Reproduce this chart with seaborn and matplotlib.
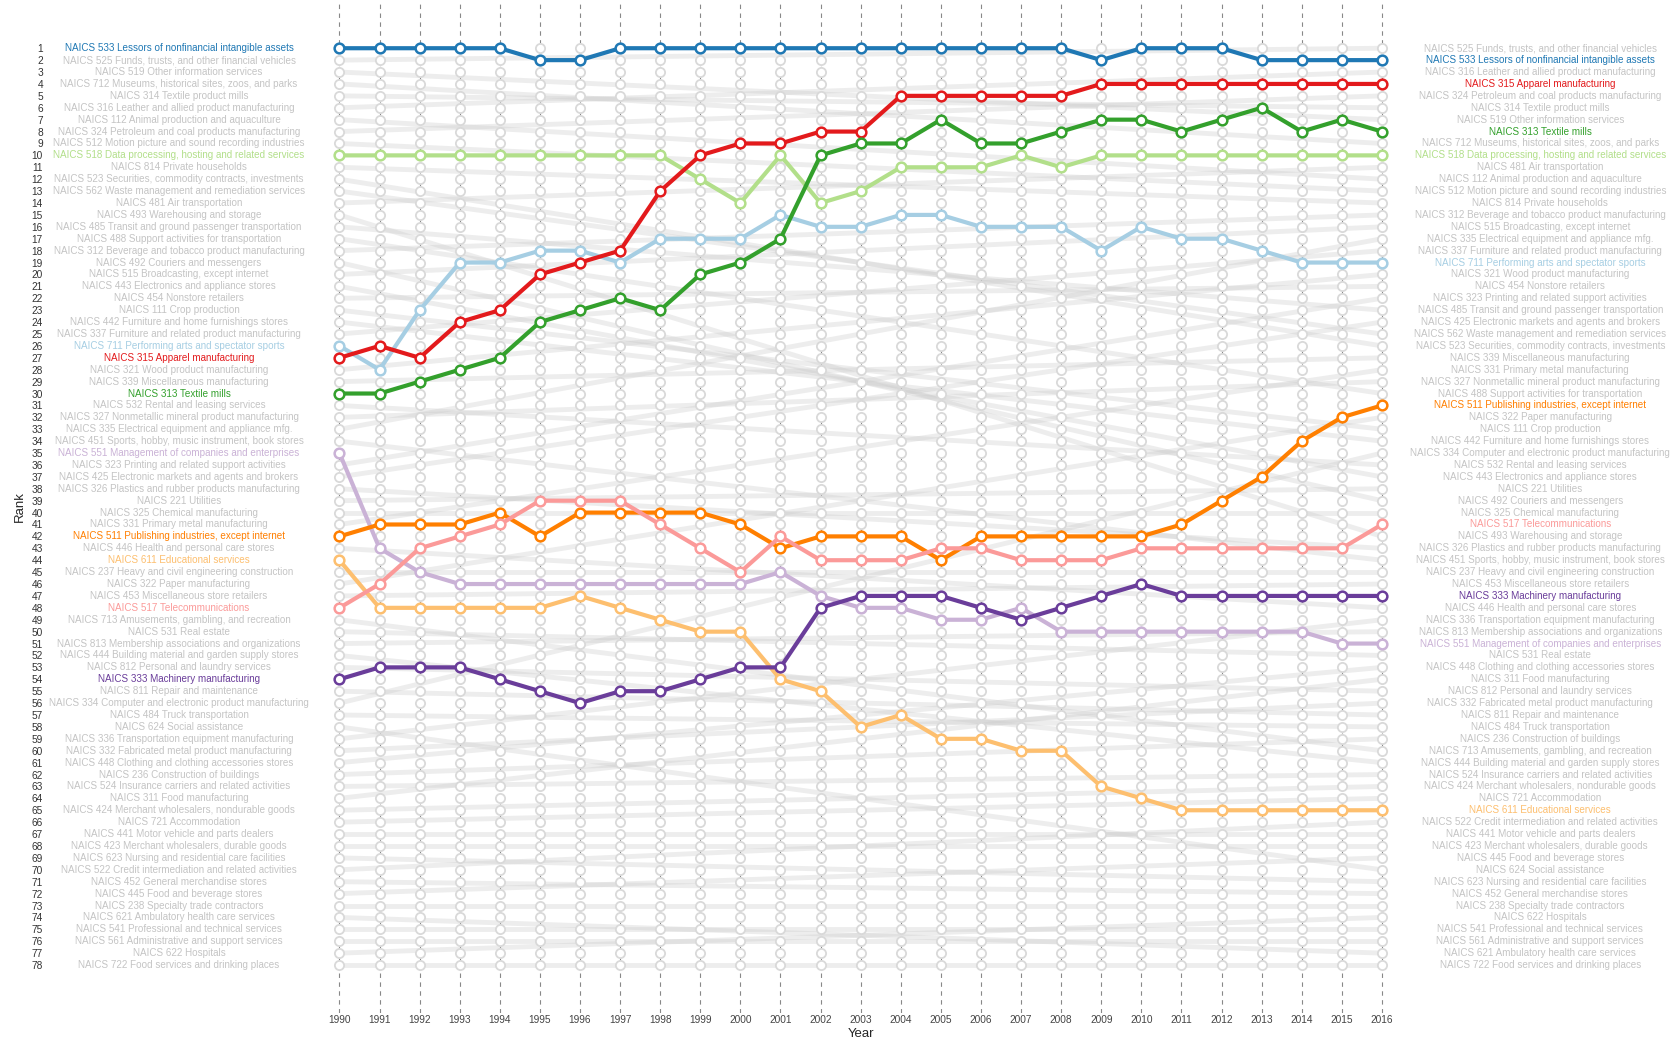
import matplotlib
matplotlib.use("Agg")
import matplotlib.pyplot as plt
import numpy as np
import pandas as pd
import seaborn as sns

sns.set_style("white")
plt.rcParams['font.family'] = ['Liberation Sans', 'DejaVu Sans']

years = list(range(1990, 2017))

# industries in rank order, 1990 (left side) and 2016 (right side)
order_1990 = [
    "NAICS 533 Lessors of nonfinancial intangible assets",
    "NAICS 525 Funds, trusts, and other financial vehicles",
    "NAICS 519 Other information services",
    "NAICS 712 Museums, historical sites, zoos, and parks",
    "NAICS 314 Textile product mills",
    "NAICS 316 Leather and allied product manufacturing",
    "NAICS 112 Animal production and aquaculture",
    "NAICS 324 Petroleum and coal products manufacturing",
    "NAICS 512 Motion picture and sound recording industries",
    "NAICS 518 Data processing, hosting and related services",
    "NAICS 814 Private households",
    "NAICS 523 Securities, commodity contracts, investments",
    "NAICS 562 Waste management and remediation services",
    "NAICS 481 Air transportation",
    "NAICS 493 Warehousing and storage",
    "NAICS 485 Transit and ground passenger transportation",
    "NAICS 488 Support activities for transportation",
    "NAICS 312 Beverage and tobacco product manufacturing",
    "NAICS 492 Couriers and messengers",
    "NAICS 515 Broadcasting, except internet",
    "NAICS 443 Electronics and appliance stores",
    "NAICS 454 Nonstore retailers",
    "NAICS 111 Crop production",
    "NAICS 442 Furniture and home furnishings stores",
    "NAICS 337 Furniture and related product manufacturing",
    "NAICS 711 Performing arts and spectator sports",
    "NAICS 315 Apparel manufacturing",
    "NAICS 321 Wood product manufacturing",
    "NAICS 339 Miscellaneous manufacturing",
    "NAICS 313 Textile mills",
    "NAICS 532 Rental and leasing services",
    "NAICS 327 Nonmetallic mineral product manufacturing",
    "NAICS 335 Electrical equipment and appliance mfg.",
    "NAICS 451 Sports, hobby, music instrument, book stores",
    "NAICS 551 Management of companies and enterprises",
    "NAICS 323 Printing and related support activities",
    "NAICS 425 Electronic markets and agents and brokers",
    "NAICS 326 Plastics and rubber products manufacturing",
    "NAICS 221 Utilities",
    "NAICS 325 Chemical manufacturing",
    "NAICS 331 Primary metal manufacturing",
    "NAICS 511 Publishing industries, except internet",
    "NAICS 446 Health and personal care stores",
    "NAICS 611 Educational services",
    "NAICS 237 Heavy and civil engineering construction",
    "NAICS 322 Paper manufacturing",
    "NAICS 453 Miscellaneous store retailers",
    "NAICS 517 Telecommunications",
    "NAICS 713 Amusements, gambling, and recreation",
    "NAICS 531 Real estate",
    "NAICS 813 Membership associations and organizations",
    "NAICS 444 Building material and garden supply stores",
    "NAICS 812 Personal and laundry services",
    "NAICS 333 Machinery manufacturing",
    "NAICS 811 Repair and maintenance",
    "NAICS 334 Computer and electronic product manufacturing",
    "NAICS 484 Truck transportation",
    "NAICS 624 Social assistance",
    "NAICS 336 Transportation equipment manufacturing",
    "NAICS 332 Fabricated metal product manufacturing",
    "NAICS 448 Clothing and clothing accessories stores",
    "NAICS 236 Construction of buildings",
    "NAICS 524 Insurance carriers and related activities",
    "NAICS 311 Food manufacturing",
    "NAICS 424 Merchant wholesalers, nondurable goods",
    "NAICS 721 Accommodation",
    "NAICS 441 Motor vehicle and parts dealers",
    "NAICS 423 Merchant wholesalers, durable goods",
    "NAICS 623 Nursing and residential care facilities",
    "NAICS 522 Credit intermediation and related activities",
    "NAICS 452 General merchandise stores",
    "NAICS 445 Food and beverage stores",
    "NAICS 238 Specialty trade contractors",
    "NAICS 621 Ambulatory health care services",
    "NAICS 541 Professional and technical services",
    "NAICS 561 Administrative and support services",
    "NAICS 622 Hospitals",
    "NAICS 722 Food services and drinking places",
]

order_2016 = [
    "NAICS 525 Funds, trusts, and other financial vehicles",
    "NAICS 533 Lessors of nonfinancial intangible assets",
    "NAICS 316 Leather and allied product manufacturing",
    "NAICS 315 Apparel manufacturing",
    "NAICS 324 Petroleum and coal products manufacturing",
    "NAICS 314 Textile product mills",
    "NAICS 519 Other information services",
    "NAICS 313 Textile mills",
    "NAICS 712 Museums, historical sites, zoos, and parks",
    "NAICS 518 Data processing, hosting and related services",
    "NAICS 481 Air transportation",
    "NAICS 112 Animal production and aquaculture",
    "NAICS 512 Motion picture and sound recording industries",
    "NAICS 814 Private households",
    "NAICS 312 Beverage and tobacco product manufacturing",
    "NAICS 515 Broadcasting, except internet",
    "NAICS 335 Electrical equipment and appliance mfg.",
    "NAICS 337 Furniture and related product manufacturing",
    "NAICS 711 Performing arts and spectator sports",
    "NAICS 321 Wood product manufacturing",
    "NAICS 454 Nonstore retailers",
    "NAICS 323 Printing and related support activities",
    "NAICS 485 Transit and ground passenger transportation",
    "NAICS 425 Electronic markets and agents and brokers",
    "NAICS 562 Waste management and remediation services",
    "NAICS 523 Securities, commodity contracts, investments",
    "NAICS 339 Miscellaneous manufacturing",
    "NAICS 331 Primary metal manufacturing",
    "NAICS 327 Nonmetallic mineral product manufacturing",
    "NAICS 488 Support activities for transportation",
    "NAICS 511 Publishing industries, except internet",
    "NAICS 322 Paper manufacturing",
    "NAICS 111 Crop production",
    "NAICS 442 Furniture and home furnishings stores",
    "NAICS 334 Computer and electronic product manufacturing",
    "NAICS 532 Rental and leasing services",
    "NAICS 443 Electronics and appliance stores",
    "NAICS 221 Utilities",
    "NAICS 492 Couriers and messengers",
    "NAICS 325 Chemical manufacturing",
    "NAICS 517 Telecommunications",
    "NAICS 493 Warehousing and storage",
    "NAICS 326 Plastics and rubber products manufacturing",
    "NAICS 451 Sports, hobby, music instrument, book stores",
    "NAICS 237 Heavy and civil engineering construction",
    "NAICS 453 Miscellaneous store retailers",
    "NAICS 333 Machinery manufacturing",
    "NAICS 446 Health and personal care stores",
    "NAICS 336 Transportation equipment manufacturing",
    "NAICS 813 Membership associations and organizations",
    "NAICS 551 Management of companies and enterprises",
    "NAICS 531 Real estate",
    "NAICS 448 Clothing and clothing accessories stores",
    "NAICS 311 Food manufacturing",
    "NAICS 812 Personal and laundry services",
    "NAICS 332 Fabricated metal product manufacturing",
    "NAICS 811 Repair and maintenance",
    "NAICS 484 Truck transportation",
    "NAICS 236 Construction of buildings",
    "NAICS 713 Amusements, gambling, and recreation",
    "NAICS 444 Building material and garden supply stores",
    "NAICS 524 Insurance carriers and related activities",
    "NAICS 424 Merchant wholesalers, nondurable goods",
    "NAICS 721 Accommodation",
    "NAICS 611 Educational services",
    "NAICS 522 Credit intermediation and related activities",
    "NAICS 441 Motor vehicle and parts dealers",
    "NAICS 423 Merchant wholesalers, durable goods",
    "NAICS 445 Food and beverage stores",
    "NAICS 624 Social assistance",
    "NAICS 623 Nursing and residential care facilities",
    "NAICS 452 General merchandise stores",
    "NAICS 238 Specialty trade contractors",
    "NAICS 622 Hospitals",
    "NAICS 541 Professional and technical services",
    "NAICS 561 Administrative and support services",
    "NAICS 621 Ambulatory health care services",
    "NAICS 722 Food services and drinking places",
]

# highlighted industries: rank in each year 1990..2016
rank_533 = [1, 1, 1, 1, 1, 2, 2, 1, 1, 1, 1, 1, 1, 1, 1, 1, 1, 1, 1, 2, 1, 1, 1, 2, 2, 2, 2]
rank_315 = [27, 26, 27, 24, 23, 20, 19, 18, 13, 10, 9, 9, 8, 8, 5, 5, 5, 5, 5, 4, 4, 4, 4, 4, 4, 4, 4]
rank_313 = [30, 30, 29, 28, 27, 24, 23, 22, 23, 20, 19, 17, 10, 9, 9, 7, 9, 9, 8, 7, 7, 8, 7, 6, 8, 7, 8]
rank_518 = [10, 10, 10, 10, 10, 10, 10, 10, 10, 12, 14, 10, 14, 13, 11, 11, 11, 10, 11, 10, 10, 10, 10, 10, 10, 10, 10]
rank_711 = [26, 28, 23, 19, 19, 18, 18, 19, 17, 17, 17, 15, 16, 16, 15, 15, 16, 16, 16, 18, 16, 17, 17, 18, 19, 19, 19]
rank_511 = [42, 41, 41, 41, 40, 42, 40, 40, 40, 40, 41, 43, 42, 42, 42, 44, 42, 42, 42, 42, 42, 41, 39, 37, 34, 32, 31]
rank_517 = [48, 46, 43, 42, 41, 39, 39, 39, 41, 43, 45, 42, 44, 44, 44, 43, 43, 44, 44, 44, 43, 43, 43, 43, 43, 43, 41]
rank_551 = [35, 43, 45, 46, 46, 46, 46, 46, 46, 46, 46, 45, 47, 48, 48, 49, 49, 48, 50, 50, 50, 50, 50, 50, 50, 51, 51]
rank_611 = [44, 48, 48, 48, 48, 48, 47, 48, 49, 50, 50, 54, 55, 58, 57, 59, 59, 60, 60, 63, 64, 65, 65, 65, 65, 65, 65]
rank_333 = [54, 53, 53, 53, 54, 55, 56, 55, 55, 54, 53, 53, 48, 47, 47, 47, 48, 49, 48, 47, 46, 47, 47, 47, 47, 47, 47]

highlight = {
    "NAICS 533 Lessors of nonfinancial intangible assets": (rank_533, "#1f78b4"),
    "NAICS 518 Data processing, hosting and related services": (rank_518, "#b2df8a"),
    "NAICS 711 Performing arts and spectator sports": (rank_711, "#a6cee3"),
    "NAICS 315 Apparel manufacturing": (rank_315, "#e31a1c"),
    "NAICS 313 Textile mills": (rank_313, "#33a02c"),
    "NAICS 551 Management of companies and enterprises": (rank_551, "#cab2d6"),
    "NAICS 511 Publishing industries, except internet": (rank_511, "#ff7f00"),
    "NAICS 611 Educational services": (rank_611, "#fdbf6f"),
    "NAICS 517 Telecommunications": (rank_517, "#fb9a99"),
    "NAICS 333 Machinery manufacturing": (rank_333, "#6a3d9a"),
}
label_gray = "#c4c4c4"

# tables for seaborn
hl_df = pd.DataFrame([
    {"Industry": name, "Year": y, "Rank": r}
    for name, (ranks, _) in highlight.items()
    for y, r in zip(years, ranks)
])
others = [n for n in order_1990 if n not in highlight]
gray_df = pd.DataFrame(
    [{"Industry": n, "Year": years[0], "Rank": order_1990.index(n) + 1} for n in others]
    + [{"Industry": n, "Year": years[-1], "Rank": order_2016.index(n) + 1} for n in others]
)
n_ranks = len(order_1990)
grid_df = pd.DataFrame([(y, r) for y in years for r in range(1, n_ranks + 1)],
                       columns=["Year", "Rank"])

fig = plt.figure(figsize=(16.81, 10.44), dpi=100)
ax = fig.add_axes([0.19, 0.03, 0.644, 0.97])

for y in years:
    ax.axvline(y, color="#888888", lw=0.8, ls=(0, (4, 4)), zorder=0)

sns.lineplot(data=gray_df, x="Year", y="Rank", units="Industry", estimator=None,
             color="#cccccc", alpha=0.35, lw=3.5, ax=ax, zorder=1)
sns.scatterplot(data=grid_df, x="Year", y="Rank", s=44, facecolor="white",
                edgecolor="#d9d9d9", linewidth=1.3, ax=ax, zorder=2)
sns.lineplot(data=hl_df, x="Year", y="Rank", hue="Industry",
             palette={k: v[1] for k, v in highlight.items()},
             hue_order=list(highlight.keys()), lw=3, marker="o", markersize=7,
             markerfacecolor="white", markeredgewidth=1.8, ax=ax, zorder=3,
             legend=False)
# marker edges follow the line colour
for line in ax.get_lines():
    if line.get_marker() == "o":
        line.set_markeredgecolor(line.get_color())

# industry labels on both sides
x_left = 1986.0
x_right = 2019.95
for i, name in enumerate(order_1990):
    c = highlight[name][1] if name in highlight else label_gray
    ax.text(x_left, i + 1, name, ha="center", va="center", fontsize=7.1, color=c, clip_on=False)
for i, name in enumerate(order_2016):
    c = highlight[name][1] if name in highlight else label_gray
    ax.text(x_right, i + 1, name, ha="center", va="center", fontsize=7.1, color=c, clip_on=False)

ax.set_xlim(1989.5, 2016.5)
ax.set_ylim(82.0, -3.05)
ax.set_xticks(years)
ax.set_xticklabels([str(y) for y in years], fontsize=7.3, color="#444444")
ax.set_yticks(range(1, n_ranks + 1))
ax.set_yticklabels([str(r) for r in range(1, n_ranks + 1)], fontsize=7.3, color="#333333")
ax.tick_params(axis="y", length=0, pad=199)
ax.tick_params(axis="x", length=0, pad=2)
ax.set_xlabel("Year", fontsize=9.5, labelpad=2)
ax.set_ylabel("Rank", fontsize=9.5, labelpad=4)
sns.despine(ax=ax, left=True, bottom=True)

fig.savefig("out.png", dpi=100)
